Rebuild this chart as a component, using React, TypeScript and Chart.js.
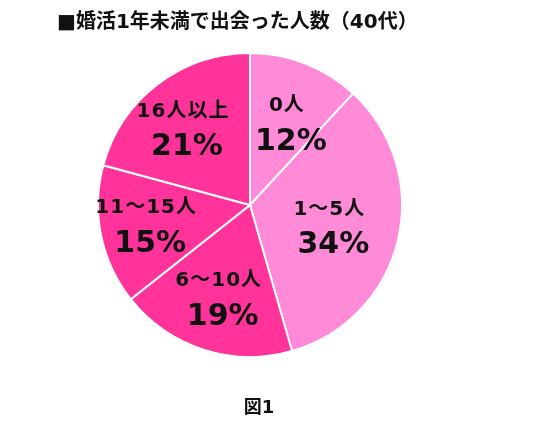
import React, { useEffect, useRef } from "react";
import { Chart, registerables } from "chart.js";

Chart.register(...registerables);

const categories = ["0人", "1～5人", "6～10人", "11～15人", "16人以上"];
const percents = [12, 34, 19, 15, 21];
const sliceColors = ["#FF8AD8", "#FF8AD8", "#FF3399", "#FF3399", "#FF3399"];
// label placement inside each slice: fraction of the slice's angle, fraction of radius
const labelAngleFrac = [0.58, 0.5, 0.5, 0.53, 0.47];
const labelRadiusFrac = [0.61, 0.55, 0.63, 0.68, 0.67];
const titleText = "■婚活1年未満で出会った人数（40代）";
const captionText = "図1";

const FONT = '"DejaVu Sans", "Noto Sans CJK JP", sans-serif';

const labelPlugin = {
  id: "sliceLabels",
  afterDatasetsDraw(chart: any) {
    const ctx = chart.ctx;
    const meta = chart.getDatasetMeta(0);
    ctx.save();
    ctx.fillStyle = "#111111";
    ctx.textAlign = "center";
    ctx.textBaseline = "middle";
    meta.data.forEach((arc: any, i: number) => {
      const p = arc.getProps(["x", "y", "startAngle", "endAngle", "outerRadius"], true);
      const ang = p.startAngle + (p.endAngle - p.startAngle) * labelAngleFrac[i];
      const r = p.outerRadius * labelRadiusFrac[i];
      const cx = p.x + Math.cos(ang) * r;
      const cy = p.y + Math.sin(ang) * r;
      ctx.font = `bold 20px ${FONT}`;
      (ctx as any).letterSpacing = "1px";
      ctx.fillText(categories[i], cx - 2, cy - 15);
      (ctx as any).letterSpacing = "0px";
      ctx.font = `bold 30px ${FONT}`;
      ctx.fillText(percents[i] + "%", cx + 2, cy + 21);
    });
    ctx.restore();
  },
  afterDraw(chart: any) {
    const ctx = chart.ctx;
    ctx.save();
    ctx.fillStyle = "#111111";
    ctx.textBaseline = "middle";
    ctx.textAlign = "left";
    ctx.font = `bold 20px ${FONT}`;
    ctx.fillText(titleText, 57, 23);
    ctx.textAlign = "center";
    ctx.font = `bold 18px ${FONT}`;
    ctx.fillText(captionText, 259, 408);
    ctx.restore();
  },
};

export default function App() {
  const ref = useRef<HTMLCanvasElement>(null);
  useEffect(() => {
    if (!ref.current) return;
    const chart = new Chart(ref.current, {
      type: "pie",
      data: {
        labels: categories,
        datasets: [
          {
            data: percents,
            backgroundColor: sliceColors,
            borderColor: "#FFFFFF",
            borderWidth: 2,
          },
        ],
      },
      options: {
        responsive: false,
        animation: false,
        layout: { padding: { left: 97, right: 133, top: 52, bottom: 76 } },
        plugins: {
          legend: { display: false },
          tooltip: { enabled: false },
          title: { display: false },
        },
      },
      plugins: [labelPlugin],
    });
    return () => chart.destroy();
  }, []);
  return (
    <div style={{ position: "fixed", left: 0, top: 0, width: 536, height: 434, background: "#fff" }}>
      <canvas ref={ref} width={536} height={434} style={{ width: 536, height: 434 }} />
    </div>
  );
}
